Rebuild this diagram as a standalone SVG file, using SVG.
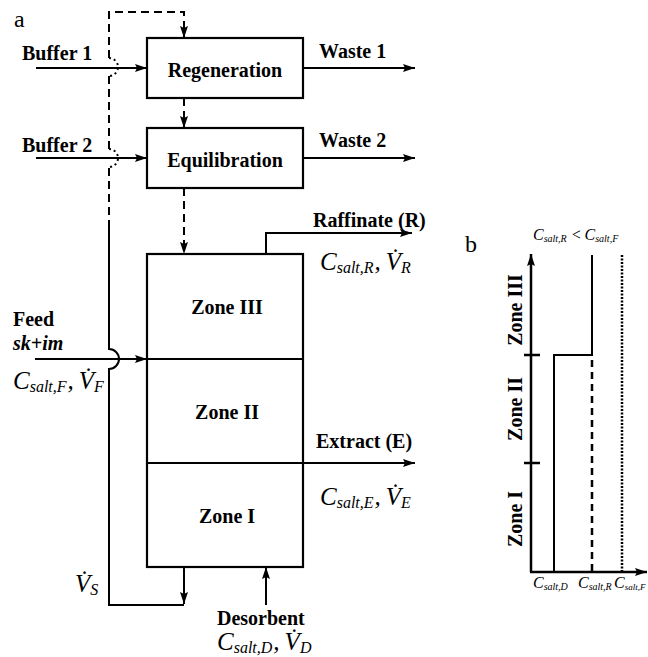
<svg xmlns="http://www.w3.org/2000/svg" width="648" height="657" viewBox="0 0 648 657">
<style>
.b{font-family:"Liberation Serif",serif;font-weight:bold;font-size:20px;fill:#000}
.m{font-family:"Liberation Serif",serif;font-style:italic;fill:#000}
.l{stroke:#000;stroke-width:2;fill:none}
.d{stroke-dasharray:8 5}
.box{stroke:#000;stroke-width:2.2;fill:#fff}
</style>
<defs>
<marker id="ar" viewBox="0 0 12 8" refX="12" refY="4" markerWidth="12" markerHeight="8" markerUnits="userSpaceOnUse" orient="auto">
<path d="M0,0 L12,4 L0,8 L2,4 z" fill="#000"/>
</marker>
</defs>
<rect width="648" height="657" fill="#fff"/>
<text x="14" y="27" font-family="Liberation Serif,serif" font-size="24">a</text>
<text x="465" y="252" font-family="Liberation Serif,serif" font-size="24">b</text>

<g id="connectors">
<path class="l d" d="M109,228 V167"/>
<path class="l" stroke-dasharray="2 3" d="M109,149 A9,9 0 0 1 109,167"/>
<path class="l d" d="M109,149 V76"/>
<path class="l" stroke-dasharray="2 3" d="M109,58 A9,9 0 0 1 109,76"/>
<path class="l d" d="M109,58 V12 H184 V38" marker-end="url(#ar)"/>
<path class="l d" d="M184,98 V128" marker-end="url(#ar)"/>
<path class="l d" d="M184,188 V254" marker-end="url(#ar)"/>
<path class="l" d="M184,567 V604" marker-end="url(#ar)"/>
<path class="l" d="M184,605 H109 V369 A10,10 0 0 0 109,349 V228"/>
<path class="l" d="M36,68 H147" marker-end="url(#ar)"/>
<path class="l" d="M36,158 H147" marker-end="url(#ar)"/>
<path class="l" d="M303,68 H415" marker-end="url(#ar)"/>
<path class="l" d="M303,158 H415" marker-end="url(#ar)"/>
<path class="l" d="M35,359 H147" marker-end="url(#ar)"/>
<path class="l" d="M266,254 V233 H412" marker-end="url(#ar)"/>
<path class="l" d="M303,463 H415" marker-end="url(#ar)"/>
<path class="l" d="M266,605 V567" marker-end="url(#ar)"/>
</g>

<g id="regeneration">
<rect class="box" x="147" y="38" width="156" height="60"/>
<text class="b" x="225" y="77" text-anchor="middle">Regeneration</text>
</g>
<g id="equilibration">
<rect class="box" x="147" y="128" width="156" height="60"/>
<text class="b" x="225" y="167" text-anchor="middle">Equilibration</text>
</g>
<g id="zones">
<rect class="box" x="147" y="254" width="156" height="313"/>
<path class="l" d="M147,359 H303 M147,463 H303"/>
<text class="b" x="227" y="314" text-anchor="middle">Zone III</text>
<text class="b" x="227" y="419" text-anchor="middle">Zone II</text>
<text class="b" x="227" y="523" text-anchor="middle">Zone I</text>
</g>

<g id="labels">
<text class="b" x="22" y="60">Buffer 1</text>
<text class="b" x="22" y="152">Buffer 2</text>
<text class="b" x="319" y="58">Waste 1</text>
<text class="b" x="319" y="147">Waste 2</text>
<text class="b" x="313" y="227">Raffinate (R)</text>
<text class="b" x="316" y="448">Extract (E)</text>
<text class="b" x="13" y="326">Feed</text>
<text class="b" x="13" y="350" font-style="italic">sk+im</text>
<text class="b" x="217" y="625">Desorbent</text>

<text class="m" x="320" y="270" font-size="25">C<tspan font-size="16" dy="3">salt,R</tspan><tspan dy="-3" dx="1">,</tspan><tspan dx="5">V̇</tspan><tspan font-size="16" dy="3">R</tspan></text>
<text class="m" x="320" y="505" font-size="25">C<tspan font-size="16" dy="3">salt,E</tspan><tspan dy="-3" dx="1">,</tspan><tspan dx="5">V̇</tspan><tspan font-size="16" dy="3">E</tspan></text>
<text class="m" x="13" y="389" font-size="25">C<tspan font-size="16" dy="3">salt,F</tspan><tspan dy="-3" dx="1">,</tspan><tspan dx="5">V̇</tspan><tspan font-size="16" dy="3">F</tspan></text>
<text class="m" x="217" y="650" font-size="25">C<tspan font-size="16" dy="3">salt,D</tspan><tspan dy="-3" dx="1">,</tspan><tspan dx="5">V̇</tspan><tspan font-size="16" dy="3">D</tspan></text>
<text class="m" x="75" y="592" font-size="25">V̇<tspan font-size="16" dy="3">S</tspan></text>
</g>

<g id="panel-b">
<path stroke="#000" stroke-width="2.5" fill="none" d="M531,572 V254" marker-end="url(#ar)"/>
<path stroke="#000" stroke-width="2.5" fill="none" d="M530,572 H647" marker-end="url(#ar)"/>
<path stroke="#000" stroke-width="2.5" d="M524,355 H540 M524,463 H540"/>
<path stroke="#000" stroke-width="2" fill="none" d="M554,572 V355 H592 V255"/>
<path stroke="#000" stroke-width="2.5" fill="none" stroke-dasharray="7 5" d="M592,360 V572"/>
<path stroke="#000" stroke-width="2.5" fill="none" stroke-dasharray="2 1.5" d="M622,255 V572"/>
<text class="b" transform="translate(522,310) rotate(-90)" text-anchor="middle">Zone III</text>
<text class="b" transform="translate(522,409) rotate(-90)" text-anchor="middle">Zone II</text>
<text class="b" transform="translate(522,519) rotate(-90)" text-anchor="middle">Zone I</text>
<text class="m" x="533" y="240" font-size="16">C<tspan font-size="10" dy="2">salt,R</tspan><tspan dy="-2" dx="4">&lt;</tspan><tspan dx="3">C</tspan><tspan font-size="10" dy="2">salt,F</tspan></text>
<text class="m" x="533" y="588" font-size="16">C<tspan font-size="10" dy="2">salt,D</tspan></text>
<text class="m" x="578" y="588" font-size="16">C<tspan font-size="10" dy="2">salt,R</tspan></text>
<text class="m" x="614" y="588" font-size="16">C<tspan font-size="9" dy="2">salt,F</tspan></text>
</g>
</svg>
